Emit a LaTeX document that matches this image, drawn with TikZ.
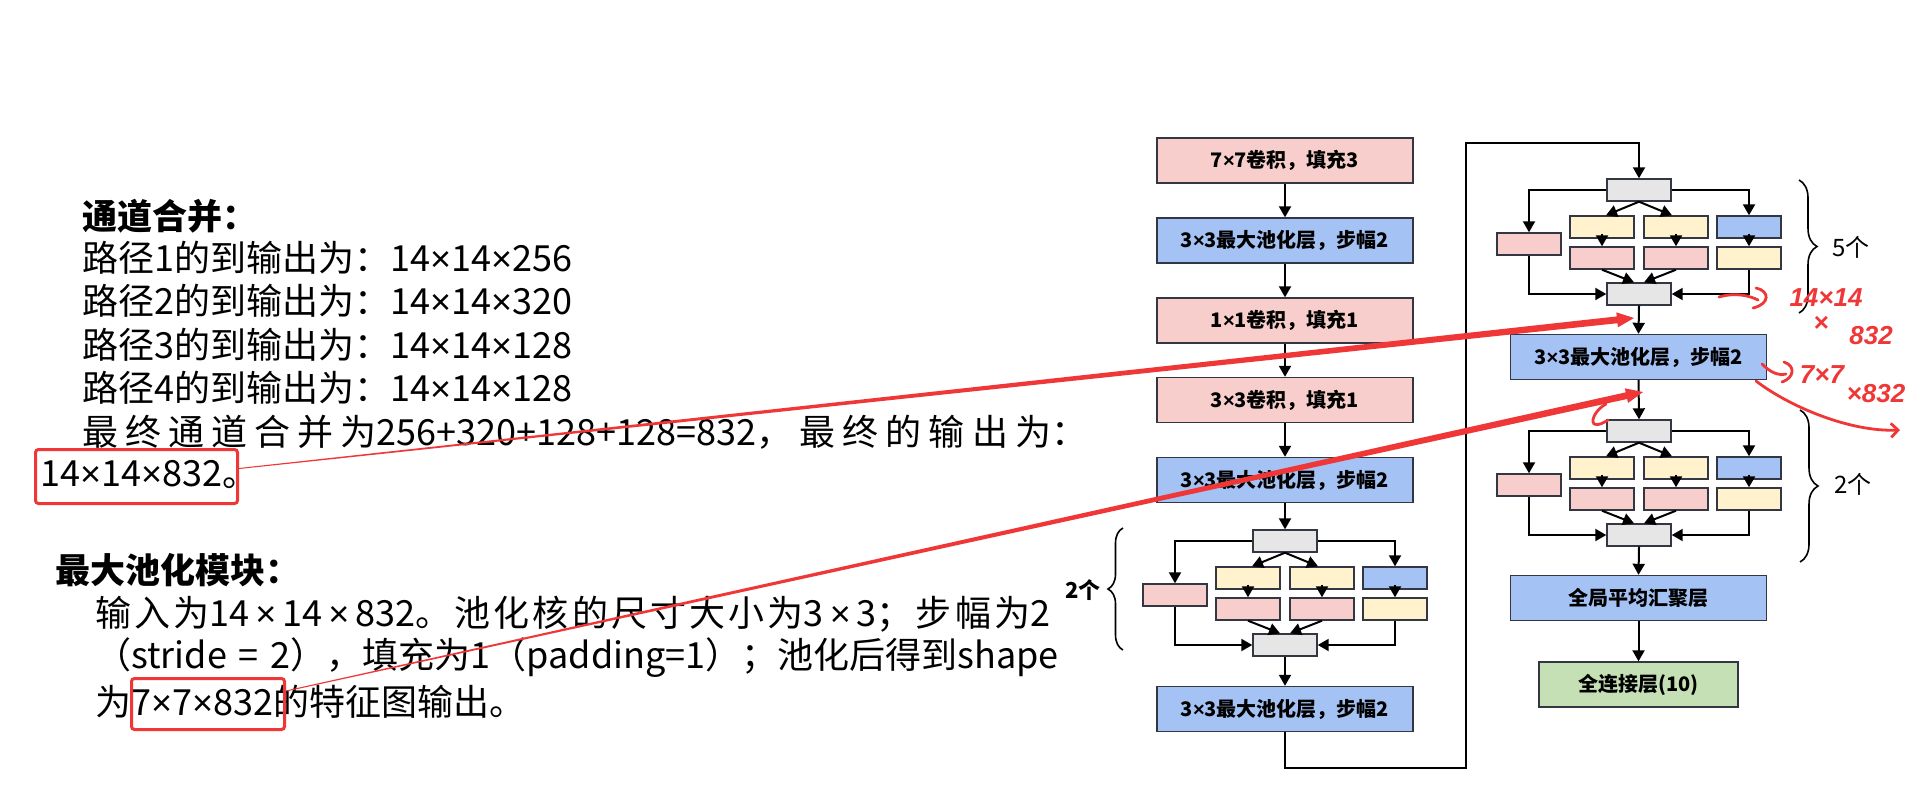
\documentclass[tikz,border=0pt]{standalone}
\usepackage{fontspec}
\setmainfont{Noto Sans CJK SC}
\newfontfamily\handfont{Liberation Sans}
\newfontfamily\latfont{Liberation Sans}
\usetikzlibrary{arrows.meta,calc,decorations.pathreplacing}
\newcommand\tm{{\latfont ×}}
\newcommand\gx{\hfill}
\definecolor{cpink}{RGB}{248,206,204}
\definecolor{cblue}{RGB}{164,194,244}
\definecolor{cyellow}{RGB}{255,242,204}
\definecolor{cgray}{RGB}{230,230,230}
\definecolor{cgreen}{RGB}{197,224,180}
\definecolor{cred}{RGB}{240,55,55}
\definecolor{cborder}{RGB}{50,55,65}
\tikzset{
  basebox/.style={draw=cborder, line width=1.4pt, inner sep=0pt,
    font=\fontsize{20}{24}\selectfont\bfseries},
  widebox/.style={basebox, minimum width=256pt, minimum height=45pt},
  smallbox/.style={basebox, minimum width=64pt, minimum height=22pt},
  arr/.style={line width=2pt, -{Triangle[length=11pt,width=12pt]}},
  bracestyle/.style={line width=1.6pt, decorate, decoration={brace,amplitude=16pt}},
  lefttext/.style={anchor=west, inner sep=0pt, font=\fontsize{36}{40}\selectfont},
  lefttitle/.style={lefttext, font=\fontsize{35}{40}\selectfont\bfseries},
  countlabel/.style={inner sep=0pt, font=\fontsize{24}{28}\selectfont},
  redframe/.style={draw=cred, line width=3pt, rounded corners=3pt, anchor=north west, inner sep=0pt},
  handstroke/.style={draw=cred, line width=2.8pt, line cap=round, line join=round},
  handtext/.style={text=cred, inner sep=0pt, font=\handfont\bfseries\itshape\fontsize{26}{28}\selectfont}
}
\newcommand\incep[3]{%
  \node[smallbox,fill=cgray] (#1gt) at (#2,#3) {};
  \node[smallbox,fill=cpink] (#1p0) at ({#2-110},{#3+54}) {};
  \node[smallbox,fill=cyellow] (#1y1) at ({#2-37},{#3+37}) {};
  \node[smallbox,fill=cpink] (#1p1) at ({#2-37},{#3+68}) {};
  \node[smallbox,fill=cyellow] (#1y2) at ({#2+37},{#3+37}) {};
  \node[smallbox,fill=cpink] (#1p2) at ({#2+37},{#3+68}) {};
  \node[smallbox,fill=cblue] (#1bl) at ({#2+110},{#3+37}) {};
  \node[smallbox,fill=cyellow] (#1y3) at ({#2+110},{#3+68}) {};
  \node[smallbox,fill=cgray] (#1gb) at (#2,{#3+104}) {};
  \draw[arr] (#1gt.west) -| (#1p0.north);
  \draw[arr] (#1gt.east) -| (#1bl.north);
  \draw[arr] (#1gt.south) -- ([xshift=4pt]#1y1.north);
  \draw[arr] (#1gt.south) -- ([xshift=-4pt]#1y2.north);
  \draw[arr] ([yshift=5pt]#1y1.south) -- (#1p1.north);
  \draw[arr] ([yshift=5pt]#1y2.south) -- (#1p2.north);
  \draw[arr] ([yshift=5pt]#1bl.south) -- (#1y3.north);
  \draw[arr] (#1p1.south) -- ([xshift=-5pt]#1gb.north);
  \draw[arr] (#1p2.south) -- ([xshift=5pt]#1gb.north);
  \draw[arr] (#1p0.south) |- (#1gb.west);
  \draw[arr] (#1y3.south) |- (#1gb.east);
}
\newcommand\mytaper[3]{% #1 start, #2 tip, #3 name
  \coordinate (#3b) at ($(#2)!17pt!(#1)$);
  \fill[cred] ($(#1)!0.5pt!90:(#2)$) -- ($(#3b)!3.4pt!90:(#2)$) -- ($(#3b)!7.5pt!90:(#2)$)
    -- (#2) -- ($(#3b)!7.5pt!-90:(#2)$) -- ($(#3b)!3.4pt!-90:(#2)$) -- ($(#1)!0.5pt!-90:(#2)$) -- cycle;
}
\begin{document}
\begin{tikzpicture}[x=1pt,y=-1pt]
\useasboundingbox (0,0) rectangle (1910,801);
\fill[white] (0,0) rectangle (1910,801);

% ---------- left text ----------
\node[lefttitle] (tt) at (82,216) {通道合并：};
\node[lefttext] (l1) at (82,258) {路径1的到输出为：14\tm 14\tm 256};
\node[lefttext] (l2) at (82,301) {路径2的到输出为：14\tm 14\tm 320};
\node[lefttext] (l3) at (82,345) {路径3的到输出为：14\tm 14\tm 128};
\node[lefttext] (l4) at (82,388) {路径4的到输出为：14\tm 14\tm 128};
\node[lefttext] (l5) at (82,432) {\makebox[1005pt][s]{最\gx 终\gx 通\gx 道\gx 合\gx 并\gx 为256+320+128+128=832，\gx 最\gx 终\gx 的\gx 输\gx 出\gx 为：}};
\node[lefttext] (l6) at (40,475) {14\tm 14\tm 832。};

\node[lefttitle] (mt) at (55,570) {最大池化模块：};
\node[lefttext] (m1) at (95,614) {\makebox[955pt][s]{输\gx 入\gx 为14\,\tm\,14\,\tm\,832。\gx 池\gx 化\gx 核\gx 的\gx 尺\gx 寸\gx 大\gx 小\gx 为3\,\tm\,3；\gx 步\gx 幅\gx 为2}};
\node[lefttext] (m2) at (95,658) {\makebox[955pt][s]{（stride\hspace{12pt}=\hspace{12pt}2），\gx 填\gx 充\gx 为1\gx （padding=1）；\gx 池\gx 化\gx 后\gx 得\gx 到shape}};
\node[lefttext] (m3) at (95,702) {为7\tm 7\tm 832的特征图输出。};

% ---------- left column ----------
\node[widebox,fill=cpink] (b1) at (1285,160.5) {7\tm 7卷积，填充3};
\node[widebox,fill=cblue] (b2) at (1285,240.5) {3\tm 3最大池化层，步幅2};
\node[widebox,fill=cpink] (b3) at (1285,320.5) {1\tm 1卷积，填充1};
\node[widebox,fill=cpink] (b4) at (1285,400) {3\tm 3卷积，填充1};
\node[widebox,fill=cblue] (b5) at (1285,480) {3\tm 3最大池化层，步幅2};
\incep{A}{1285}{541}
\node[widebox,fill=cblue] (b6) at (1285,709) {3\tm 3最大池化层，步幅2};
\draw[arr] (b1.south) -- (b2.north);
\draw[arr] (b2.south) -- (b3.north);
\draw[arr] (b3.south) -- (b4.north);
\draw[arr] (b4.south) -- (b5.north);
\draw[arr] (b5.south) -- (Agt.north);
\draw[arr] (Agb.south) -- (b6.north);

% ---------- right column ----------
\incep{B}{1639}{190}
\node[widebox,fill=cblue] (mp) at (1638.5,357) {3\tm 3最大池化层，步幅2};
\incep{C}{1639}{431}
\node[widebox,fill=cblue] (gap) at (1638.5,598) {全局平均汇聚层};
\node[widebox,fill=cgreen,minimum width=199pt] (fc) at (1638.5,684.5) {全连接层(10)};
\draw[arr] (Bgb.south) -- (mp.north);
\draw[arr] (mp.south) -- (Cgt.north);
\draw[arr] (Cgb.south) -- (gap.north);
\draw[arr] (gap.south) -- (fc.north);

% loop connection
\coordinate (lpa) at (1466,768);
\coordinate (lpb) at (1466,143);
\draw[arr] (b6.south) |- (lpa) -- (lpb) -| (Bgt.north);

% braces
\draw[bracestyle, decoration={amplitude=15pt}] (1123,650) -- (1123,528);
\node[countlabel, font=\fontsize{22}{26}\selectfont\bfseries] (n2a) at (1083,590) {2个};
\draw[bracestyle, decoration={amplitude=18pt}] (1799,180) -- (1799,313);
\node[countlabel] (n5) at (1851,247) {5个};
\draw[bracestyle, decoration={amplitude=18pt}] (1800,410) -- (1800,562);
\node[countlabel] (n2b) at (1853,484) {2个};

% ---------- red annotations ----------
\node[redframe, minimum width=202pt, minimum height=54pt] (rb1) at (34,448) {};
\node[redframe, minimum width=153pt, minimum height=51pt] (rb2) at (130,677) {};
\coordinate (s1) at ($(rb1.east)+(0,-8)$);
\coordinate (tip1) at (1634,318);
\mytaper{s1}{tip1}{ta}
\coordinate (s2) at ($(rb2.east)+(0,-13)$);
\coordinate (tip2) at (1643,392);
\mytaper{s2}{tip2}{tb}

% handwritten notes
\draw[handstroke] (1719,297) .. controls (1736,292) and (1750,296) .. (1758,300);
\draw[handstroke] (1756,288) .. controls (1770,291) and (1770,304) .. (1753,308);
\node[handtext] (h1) at (1826,298) {14×14};
\node[handtext] (h2) at (1821,324) {×};
\node[handtext] (h3) at (1871,336) {832};
\draw[handstroke] (1762,364) .. controls (1770,372) and (1778,376) .. (1786,374);
\draw[handstroke] (1784,362) .. controls (1796,366) and (1794,378) .. (1782,382);
\node[handtext] (h4) at (1822,375) {7×7};
\node[handtext] (h5) at (1876,394) {×832};
\draw[handstroke, -{Straight Barb[length=7pt,width=14pt]}] (1756,381) .. controls (1790,407) and (1850,432) .. (1900,430);
\draw[handstroke] (1606,404) .. controls (1598,408) and (1590,419) .. (1594,424) .. controls (1598,426) and (1603,423) .. (1608,420);
\end{tikzpicture}
\end{document}
